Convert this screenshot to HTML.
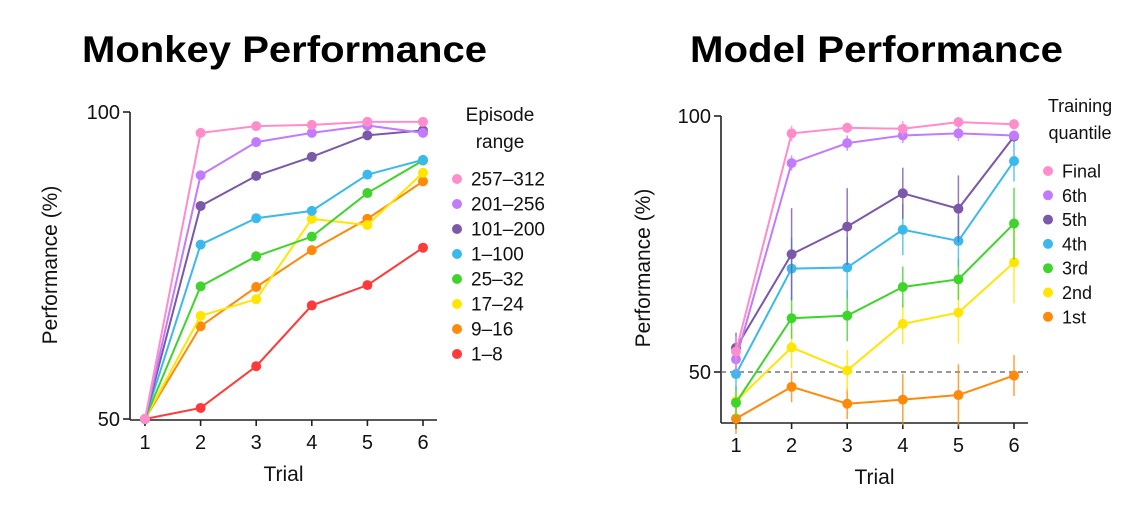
<!DOCTYPE html>
<html><head><meta charset="utf-8"><style>
body{margin:0;background:#fff}
svg{display:block;font-family:"Liberation Sans",sans-serif}
</style></head><body>
<svg id="fig" width="1140" height="511" viewBox="0 0 1140 511">
<text x="82" y="62" font-size="37" font-weight="bold" textLength="405" lengthAdjust="spacingAndGlyphs">Monkey Performance</text>
<text x="690" y="62" font-size="37" font-weight="bold" textLength="373" lengthAdjust="spacingAndGlyphs">Model Performance</text>
<g id="left"></g>
<g id="right"></g>
</svg>
<script>
const trials=[1,2,3,4,5,6];
const colors=["#ff8ccb","#c27bff","#7b58a8","#3bb9ec","#3fd42c","#ffe600","#ff8a0a","#ff3a3a"];
const monkeyLabels=["257–312","201–256","101–200","1–100","25–32","17–24","9–16","1–8"];
const m257=[50,96.6,97.7,97.9,98.4,98.4];
const m201=[50,89.7,95.1,96.6,97.8,96.6];
const m101=[50,84.7,89.6,92.7,96.2,97.0];
const m1=[50,78.4,82.7,83.9,89.8,92.2];
const m25=[50,71.6,76.5,79.7,86.8,92.1];
const m17=[50,66.8,69.5,82.6,81.6,90.1];
const m9=[50,65.1,71.5,77.5,82.6,88.7];
const m1to8=[50,51.8,58.6,68.5,71.8,77.9];
const monkeySeries=[m257,m201,m101,m1,m25,m17,m9,m1to8];

const modelLabels=["Final","6th","5th","4th","3rd","2nd","1st"];
const qFinal=[54.0,96.6,97.7,97.5,98.8,98.4];
const q6=[52.5,90.8,94.7,96.2,96.6,96.2];
const q5=[54.7,73.0,78.4,84.9,81.9,96.0];
const q4=[49.6,70.2,70.4,77.8,75.6,91.2];
const q3=[44.0,60.5,61.0,66.6,68.1,79.0];
const q2=[44.3,54.8,50.3,59.4,61.6,71.4];
const q1=[40.9,47.1,43.8,44.6,45.5,49.3];
const modelSeries=[qFinal,q6,q5,q4,q3,q2,q1];
const eFinal=[3,1.5,1,1.5,1,1];
const e6=[3,1.5,1.5,1.5,1.5,1];
const e5=[3,9,7.5,5,6.5,1];
const e4=[3,6,6,5,5,4];
const e3=[3,4,5,4,4,7];
const e2=[3,4,4,4,6,8];
const e1=[3,3,3,5,6,4];
const modelErr=[eFinal,e6,e5,e4,e3,e2,e1];

const NS="http://www.w3.org/2000/svg";
function mk(parent,tag,attrs,text){const e=document.createElementNS(NS,tag);for(const k in attrs)e.setAttribute(k,attrs[k]);if(text!==undefined)e.textContent=text;parent.appendChild(e);return e;}

function drawChart(g,cfg,series,labels,errs,legendTitle,legendCols){
  const X=t=>cfg.x1+(t-1)*(cfg.x6-cfg.x1)/5;
  const Y=v=>cfg.y50+(v-50)*(cfg.y100-cfg.y50)/50;
  let l=mk(g,'line',{x1:cfg.ax,y1:cfg.y100,x2:cfg.ax,y2:cfg.bottom,stroke:'#222','stroke-width':1.6});
  
  
  l=mk(g,'line',{x1:cfg.ax,y1:cfg.bottom,x2:cfg.axEnd,y2:cfg.bottom,stroke:'#222','stroke-width':1.6});
  
  
  [50,100].forEach(v=>{
    mk(g,'line',{x1:cfg.ax-7,y1:Y(v),x2:cfg.ax,y2:Y(v),stroke:'#222','stroke-width':1.6});
    const t=mk(g,'text',{x:cfg.ax-10,y:Y(v)+7,'font-size':20,'text-anchor':'end',fill:'#111'},String(v));
    
    
  });
  trials.forEach(tr=>{
    mk(g,'line',{x1:X(tr),y1:cfg.bottom,x2:X(tr),y2:cfg.bottom+6,stroke:'#222','stroke-width':1.6});
    const t=mk(g,'text',{x:X(tr),y:cfg.bottom+29,'font-size':20,'text-anchor':'middle',fill:'#111'},String(tr));
    
    
  });
  if(cfg.dash){const d=mk(g,'line',{x1:cfg.ax,y1:Y(50),x2:cfg.axEnd,y2:Y(50),stroke:'#777','stroke-width':1.4,'stroke-dasharray':'5,4'});
    
    }
  let t=mk(g,'text',{x:(cfg.ax+cfg.axEnd)/2,y:cfg.bottom+61,'font-size':21,'text-anchor':'middle',fill:'#111'},'Trial');
  
  
  t=mk(g,'text',{x:0,y:0,'font-size':21,'text-anchor':'middle',fill:'#111',transform:`translate(${cfg.ylx},${cfg.yly}) rotate(-90)`},'Performance (%)');
  
  
  for(let i=series.length-1;i>=0;i--){
    const s=series[i],c=legendCols[i];
    if(errs){s.forEach((v,j)=>{const e=mk(g,'line',{x1:X(trials[j]),y1:Y(v-errs[i][j]),x2:X(trials[j]),y2:Y(v+errs[i][j]),stroke:c,'stroke-width':1.5,opacity:0.8});
      
      });}
    const p=mk(g,'polyline',{points:s.map((v,j)=>X(trials[j])+','+Y(v)).join(' '),fill:'none',stroke:c,'stroke-width':2});
    
    
    s.forEach((v,j)=>{const d=mk(g,'circle',{cx:X(trials[j]),cy:Y(v),r:5,fill:c});
      
      });
  }
  legendTitle.forEach((line,k)=>{const lt=mk(g,'text',{x:cfg.ltx,y:cfg.lty+k*27,'font-size':cfg.lfs,'text-anchor':'middle',fill:'#111'},line);
    
    });
  labels.forEach((lab,i)=>{
    const y=cfg.ly0+i*cfg.lstep;
    const lg=mk(g,'g',{});
    
    
    mk(lg,'circle',{cx:cfg.ldx,cy:y,r:5,fill:legendCols[i]});
    mk(lg,'text',{x:cfg.ltxt,y:y+6.5,'font-size':cfg.lfs,fill:'#111'},lab);
  });
}
drawChart(document.getElementById('left'),{x1:145,x6:423,ax:130,axEnd:437,y50:419,y100:112,bottom:420,ylx:57,yly:265,dash:false,
  ltx:500,lty:121,lfs:19,ldx:457,ltxt:471,ly0:179,lstep:25},monkeySeries,monkeyLabels,null,["Episode","range"],colors);
drawChart(document.getElementById('right'),{x1:736,x6:1014,ax:721,axEnd:1028,y50:372,y100:116,bottom:423,ylx:650,yly:268,dash:true,
  ltx:1080,lty:112,lfs:18,ldx:1048,ltxt:1062,ly0:171,lstep:24.3},modelSeries,modelLabels,modelErr,["Training","quantile"],colors.slice(0,7));
</script>
</body></html>
